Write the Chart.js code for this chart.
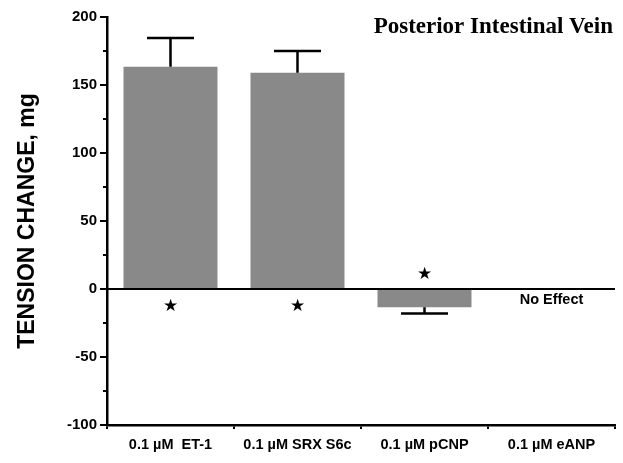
<!DOCTYPE html>
<html>
<head>
<meta charset="utf-8">
<script src="https://cdn.jsdelivr.net/npm/chart.js@4/dist/chart.umd.min.js"></script>
<style>
html,body{margin:0;padding:0;background:#fff;}
#wrap{width:623px;height:463px;}
</style>
</head>
<body>
<div id="wrap"><canvas id="c" width="623" height="463"></canvas></div>
<script>
const categories = ['0.1 \u00B5M  ET-1', '0.1 \u00B5M SRX S6c', '0.1 \u00B5M pCNP', '0.1 \u00B5M eANP'];
const tensionChange = [163.5, 159, -13.5, null];
const errorSEM = [21, 16, 4.5, null];
const starValues = [-13, -13, 10.5, null];
const noteText = [null, null, null, 'No Effect'];
const yTicks = [-100, -50, 0, 50, 100, 150, 200];
const chartTitle = 'Posterior Intestinal Vein';
const yTitle = 'TENSION CHANGE, mg';

const overlay = {
  id: 'overlay',
  afterDatasetsDraw(chart) {
    const ctx = chart.ctx;
    const x = chart.scales.x, y = chart.scales.y;
    const area = chart.chartArea;
    ctx.save();
    ctx.strokeStyle = '#000';
    ctx.lineWidth = 2;
    y.ticks.forEach(t => {
      if (!yTicks.includes(t.value)) {
        const py = Math.round(y.getPixelForValue(t.value));
        ctx.beginPath();
        ctx.moveTo(area.left - 4, py);
        ctx.lineTo(area.left, py);
        ctx.stroke();
      }
    });
    const y0 = y.getPixelForValue(0);
    ctx.lineWidth = 2;
    ctx.beginPath();
    ctx.moveTo(area.left, y0);
    ctx.lineTo(area.right, y0);
    ctx.stroke();
    const meta = chart.getDatasetMeta(0);
    ctx.lineWidth = 2.5;
    tensionChange.forEach((v, i) => {
      if (v === null || errorSEM[i] === null) return;
      const px = x.getPixelForValue(i);
      const end = v >= 0 ? v + errorSEM[i] : v - errorSEM[i];
      const pv = y.getPixelForValue(v);
      const pe = y.getPixelForValue(end);
      const half = meta.data[i].width * 0.25;
      ctx.beginPath();
      ctx.moveTo(px, pv);
      ctx.lineTo(px, pe);
      ctx.moveTo(px - half, pe);
      ctx.lineTo(px + half, pe);
      ctx.stroke();
    });
    ctx.fillStyle = '#000';
    ctx.font = '17px "DejaVu Sans"';
    ctx.textAlign = 'center';
    ctx.textBaseline = 'middle';
    starValues.forEach((v, i) => {
      if (v === null) return;
      ctx.fillText('\u2605', x.getPixelForValue(i), y.getPixelForValue(v));
    });
    ctx.font = 'bold 14.5px "Liberation Sans", Arial, sans-serif';
    noteText.forEach((t, i) => {
      if (!t) return;
      ctx.fillText(t, x.getPixelForValue(i), y.getPixelForValue(-8));
    });
    ctx.font = 'bold 23px "Liberation Serif", "DejaVu Serif", serif';
    ctx.textAlign = 'right';
    ctx.textBaseline = 'alphabetic';
    ctx.fillText(chartTitle, area.right - 2, 33);
    ctx.restore();
  }
};

new Chart(document.getElementById('c'), {
  type: 'bar',
  data: {
    labels: categories,
    datasets: [{
      data: tensionChange,
      backgroundColor: '#898989',
      borderWidth: 0,
      barPercentage: 0.74,
      categoryPercentage: 1.0
    }]
  },
  options: {
    responsive: false,
    animation: false,
    devicePixelRatio: 1,
    layout: { padding: { left: 0, right: 8, top: 17, bottom: 0 } },
    plugins: { legend: { display: false }, tooltip: { enabled: false }, title: { display: false } },
    scales: {
      x: {
        grid: { display: true, drawOnChartArea: false, offset: true, tickLength: 4, color: '#000', lineWidth: 2 },
        border: { display: true, color: '#000', width: 2.5 },
        ticks: {
          color: '#000',
          padding: 7,
          font: { family: '"Liberation Sans", Arial, sans-serif', size: 14.5, weight: 'bold' },
          maxRotation: 0,
          autoSkip: false
        },
        afterFit: s => { s.height = 38; }
      },
      y: {
        min: -100,
        max: 200,
        grid: {
          display: true,
          drawOnChartArea: false,
          tickLength: 7,
          lineWidth: 2,
          tickColor: c => (c.tick && yTicks.includes(c.tick.value)) ? '#000' : 'rgba(0,0,0,0)',
          color: '#000'
        },
        border: { display: true, color: '#000', width: 2.5 },
        ticks: {
          stepSize: 25,
          color: '#000',
          padding: 3,
          font: { family: '"Liberation Sans", Arial, sans-serif', size: 15, weight: 'bold' },
          callback: v => yTicks.includes(v) ? String(v) : ''
        },
        title: {
          display: true,
          text: yTitle,
          color: '#000',
          font: { family: '"Liberation Sans", Arial, sans-serif', size: 23, weight: 'bold' },
          padding: { top: 14, bottom: 0 }
        },
        afterFit: s => { s.width = 107; }
      }
    }
  },
  plugins: [overlay]
});
</script>
</body>
</html>
